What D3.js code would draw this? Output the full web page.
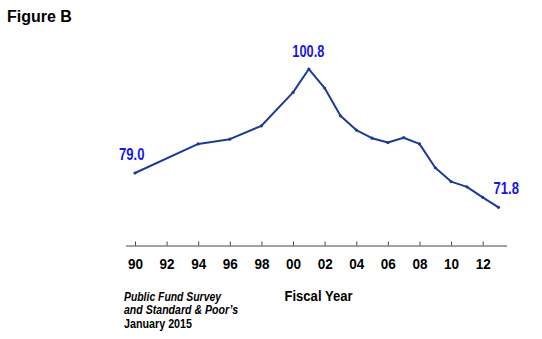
<!DOCTYPE html>
<html>
<head>
<meta charset="utf-8">
<script src="https://cdn.jsdelivr.net/npm/d3@7"></script>
<style>
  body { margin: 0; background: #fff; }
  text { font-family: "Liberation Sans", Arial, sans-serif; font-weight: bold; }
</style>
</head>
<body>
<svg id="chart"></svg>
<script>
// fiscal years and funded ratio (%)
const years = [1990, 1994, 1996, 1998, 2000, 2001, 2002, 2003, 2004, 2005, 2006, 2007, 2008, 2009, 2010, 2011, 2012, 2013];
const values = [79.0, 85.1, 86.1, 88.9, 95.9, 100.8, 96.8, 91.0, 88.0, 86.3, 85.4, 86.4, 85.1, 80.1, 77.2, 76.1, 73.9, 71.8];
const tickYears = [1990, 1992, 1994, 1996, 1998, 2000, 2002, 2004, 2006, 2008, 2010, 2012];
const labelled = [1990, 2001, 2013];
const sourceLines = ['Public Fund Survey', 'and Standard & Poor\u2019s', 'January 2015'];

const width = 542, height = 339;

const svg = d3.select('#chart')
    .attr('width', width)
    .attr('height', height);

// squeeze text to a narrow face (no Arial Narrow installed)
function narrow(sel, lengths) {
    sel.each(function (d, i) {
        const len = typeof lengths === 'function' ? lengths(d, i) : lengths;
        d3.select(this)
            .attr('textLength', len)
            .attr('lengthAdjust', 'spacingAndGlyphs');
    });
}

// scales
const xScale = d3.scaleLinear()
    .domain([1990, 2013])
    .range([135, 498.5]);

const yScale = d3.scaleLinear()
    .domain([65, 105])
    .range([239.8, 49]);

const axisY = 245.5;

// title
svg.append('text')
    .attr('x', 7)
    .attr('y', 22)
    .style('font-size', '16px')
    .text('Figure B');

// x axis
const xAxis = d3.axisTop(xScale)
    .tickValues(tickYears)
    .tickSize(4)
    .tickSizeOuter(0)
    .tickFormat(d => String(d).slice(2));

const xAxisG = svg.append('g')
    .attr('transform', `translate(0,${axisY})`)
    .call(xAxis);

xAxisG.select('.domain')
    .attr('d', `M126,0.5H507`)
    .attr('stroke', '#444');
xAxisG.selectAll('.tick line').attr('stroke', '#444');
xAxisG.selectAll('.tick text')
    .attr('y', 23.5)
    .attr('dy', 0)
    .attr('fill', '#000')
    .style('font-size', '14.5px')
    .style('font-weight', 'bold')
    .style('font-family', '"Liberation Sans", Arial, sans-serif')
    .call(narrow, 15);

// line
const line = d3.line()
    .x((d, i) => xScale(years[i]))
    .y(d => yScale(d));

svg.append('path')
    .datum(values)
    .attr('fill', 'none')
    .attr('stroke', '#1c3c98')
    .attr('stroke-width', 2)
    .attr('stroke-linejoin', 'round')
    .attr('d', line);

// point markers
svg.selectAll('.pt')
    .data(values)
    .join('circle')
    .attr('class', 'pt')
    .attr('cx', (d, i) => xScale(years[i]))
    .attr('cy', d => yScale(d))
    .attr('r', 1.6)
    .attr('fill', '#1c3c98');

// value labels
const labelData = years.map((y, i) => ({ year: y, value: values[i] }))
    .filter(d => labelled.includes(d.year));

svg.selectAll('.val')
    .data(labelData)
    .join('text')
    .attr('class', 'val')
    .attr('text-anchor', 'middle')
    .attr('x', d => xScale(d.year) + (d.year === 1990 ? -3.3 : d.year === 2013 ? 7.7 : -0.5))
    .attr('y', d => yScale(d.value) - (d.year === 1990 ? 13.5 : d.year === 2013 ? 13 : 12))
    .attr('fill', '#1616e8')
    .style('font-size', '16px')
    .text(d => d.value.toFixed(1))
    .call(narrow, d => d.value >= 100 ? 32 : 25.5);

// axis title
svg.append('text')
    .attr('x', 318.5)
    .attr('y', 301)
    .attr('text-anchor', 'middle')
    .style('font-size', '15px')
    .text('Fiscal Year')
    .call(narrow, 68);

// source
const srcLengths = [97, 114, 68];
svg.selectAll('.src')
    .data(sourceLines)
    .join('text')
    .attr('class', 'src')
    .attr('x', 124)
    .attr('y', (d, i) => 300.5 + i * 13.8)
    .style('font-size', '13.5px')
    .style('font-style', (d, i) => i < 2 ? 'italic' : 'normal')
    .text(d => d)
    .call(narrow, (d, i) => srcLengths[i]);
</script>
</body>
</html>
